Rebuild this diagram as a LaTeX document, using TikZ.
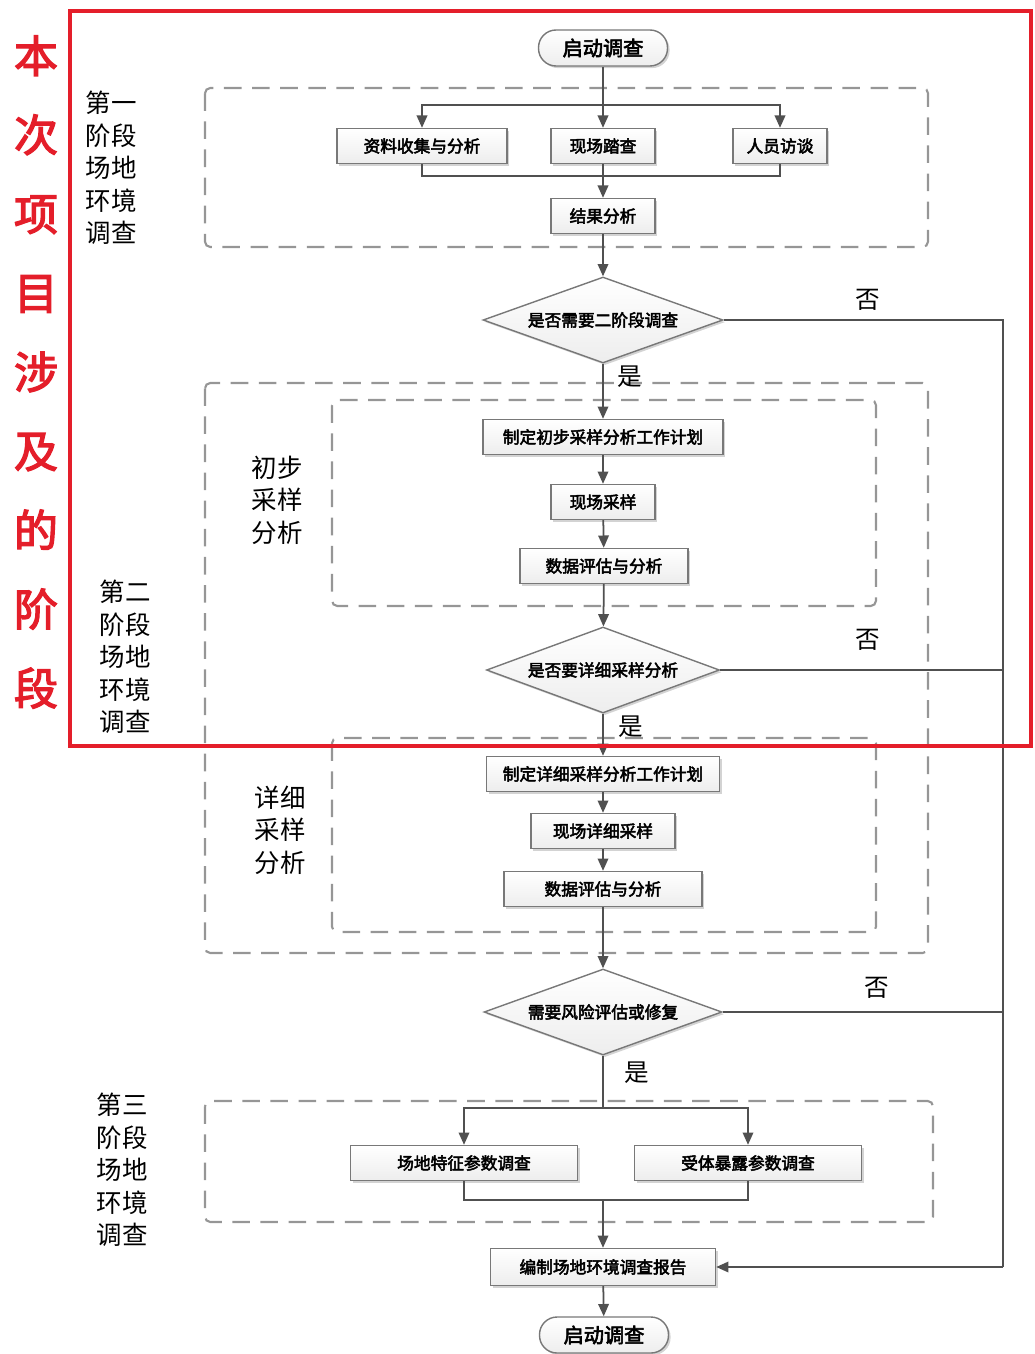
\documentclass[tikz,border=0pt]{standalone}
\usepackage{fontspec}
\usepackage{tikz}
\usetikzlibrary{shapes.geometric,arrows.meta,shadows,positioning}
\newfontfamily\cjk{Noto Sans CJK SC}
\newfontfamily\cjkbf[FakeBold=3]{Noto Sans CJK SC}
\definecolor{linegray}{RGB}{80,80,80}
\definecolor{boxgray}{RGB}{120,120,120}
\definecolor{dashgray}{RGB}{150,150,150}
\definecolor{markred}{RGB}{228,30,42}

\begin{document}
\begin{tikzpicture}[x=0.02cm, y=-0.02cm,
	stepbox/.style={rectangle, draw=boxgray, line width=0.8pt, top color=white, bottom color=gray!14,
		drop shadow={opacity=0.35, shadow xshift=1.2pt, shadow yshift=-1.2pt},
		minimum height=0.7cm, inner sep=2pt, font=\cjkbf\fontsize{9.5}{11}\selectfont},
	terminal/.style={stepbox, rounded corners=0.35cm, minimum width=2.58cm, minimum height=0.72cm,
		font=\cjkbf\fontsize{11.5}{13}\selectfont},
	decision/.style={diamond, aspect=2.85, draw=boxgray, line width=0.8pt, top color=white, bottom color=gray!14,
		drop shadow={opacity=0.35, shadow xshift=1.2pt, shadow yshift=-1.2pt},
		inner sep=0pt, minimum width=4.8cm, minimum height=1.72cm, font=\cjkbf\fontsize{9.5}{11}\selectfont},
	flow/.style={draw=linegray, line width=1pt},
	arr/.style={flow, -{Triangle[length=7pt,width=6pt]}},
	stage/.style={draw=dashgray, line width=1.2pt, dash pattern=on 10pt off 6pt, rounded corners=3pt},
	stagename/.style={align=center, font=\cjk\fontsize{14.5}{18.5}\selectfont},
	answer/.style={font=\cjk\fontsize{14}{16}\selectfont}]

	\useasboundingbox (0,0) rectangle (1034,1354);

	% stage frames
	\draw[stage] (205,88) rectangle (928,247);
	\draw[stage] (205,383) rectangle (928,953);
	\draw[stage] (332,400) rectangle (876,606);
	\draw[stage] (332,738) rectangle (876,932);
	\draw[stage] (205,1101) rectangle (933,1222);

	\node (start) [terminal] at (603,48) {启动调查};
	\node (ziliao) [stepbox, minimum width=3.4cm] at (422,146) {资料收集与分析};
	\node (tacha) [stepbox, minimum width=2.08cm] at (603,146) {现场踏查};
	\node (fangtan) [stepbox, minimum width=1.88cm] at (780,146) {人员访谈};
	\node (jieguo) [stepbox, minimum width=2.08cm] at (603,216) {结果分析};
	\node (q1) [decision] at (603,320) {是否需要二阶段调查};
	\node (plan1) [stepbox, minimum width=4.8cm] at (603,437) {制定初步采样分析工作计划};
	\node (caiyang) [stepbox, minimum width=2.08cm] at (603,502) {现场采样};
	\node (pinggu1) [stepbox, minimum width=3.36cm] at (604,566) {数据评估与分析};
	\node (q2) [decision, minimum width=4.66cm] at (603,670) {是否要详细采样分析};
	\node (plan2) [stepbox, minimum width=4.66cm] at (603,774) {制定详细采样分析工作计划};
	\node (xiangxi) [stepbox, minimum width=2.88cm] at (603,831) {现场详细采样};
	\node (pinggu2) [stepbox, minimum width=3.96cm] at (603,889) {数据评估与分析};
	\node (q3) [decision, minimum width=4.76cm] at (603,1012) {需要风险评估或修复};
	\node (tezheng) [stepbox, minimum width=4.54cm] at (464,1163) {场地特征参数调查};
	\node (baolu) [stepbox, minimum width=4.54cm] at (748,1163) {受体暴露参数调查};
	\node (report) [stepbox, minimum width=4.5cm, minimum height=0.74cm] at (603,1267) {编制场地环境调查报告};
	\node (finish) [terminal] at (604,1335) {启动调查};

	\node (s1) [stagename] at (111,168) {第一\\阶段\\场地\\环境\\调查};
	\node (s2a) [stagename] at (277,500) {初步\\采样\\分析};
	\node (s2) [stagename] at (125,657) {第二\\阶段\\场地\\环境\\调查};
	\node (s2b) [stagename] at (280,830) {详细\\采样\\分析};
	\node (s3) [stagename] at (122,1170) {第三\\阶段\\场地\\环境\\调查};

	\node (no1) [answer] at (868,300) {否};
	\node (yes1) [answer] at (630,377) {是};
	\node (no2) [answer] at (868,640) {否};
	\node (yes2) [answer] at (631,727) {是};
	\node (no3) [answer] at (877,988) {否};
	\node (yes3) [answer] at (637,1073) {是};

	\coordinate (split1) at (603,105);
	\coordinate (merge1) at (603,176);
	\coordinate (split3) at (603,1108);
	\coordinate (merge3) at (603,1200);
	\coordinate (back) at (1003,1267);

	\draw[flow] (start) -- (split1);
	\draw[arr] (split1) -| (ziliao);
	\draw[arr] (split1) -- (tacha);
	\draw[arr] (split1) -| (fangtan);
	\draw[flow] (ziliao) |- (merge1) -| (fangtan);
	\draw[arr] (tacha) -- (jieguo);
	\draw[arr] (jieguo) -- (q1);
	\draw[arr] (q1) -- (plan1);
	\draw[arr] (plan1) -- (caiyang);
	\draw[arr] (caiyang) -- (pinggu1);
	\draw[arr] (pinggu1) -- (q2);
	\draw[arr] (q2) -- (plan2);
	\draw[arr] (plan2) -- (xiangxi);
	\draw[arr] (xiangxi) -- (pinggu2);
	\draw[arr] (pinggu2) -- (q3);
	\draw[flow] (q3) -- (split3);
	\draw[arr] (split3) -| (tezheng);
	\draw[arr] (split3) -| (baolu);
	\draw[flow] (tezheng) |- (merge3) -| (baolu);
	\draw[arr] (merge3) -- (report);
	\draw[arr] (report) -- (finish);
	\draw[flow] (q1) -| (back);
	\draw[flow] (q2.east) -- (q2.east -| back);
	\draw[flow] (q3.east) -- (q3.east -| back);
	\draw[arr] (back) -- (report);

	% scope of this project
	\draw[markred, line width=2.8pt] (70,11) rectangle (1031,746);
	\node (scope) [markred, align=center, font=\cjkbf\fontsize{25}{45}\selectfont] at (36,372) {本\\次\\项\\目\\涉\\及\\的\\阶\\段};

\end{tikzpicture}
\end{document}
